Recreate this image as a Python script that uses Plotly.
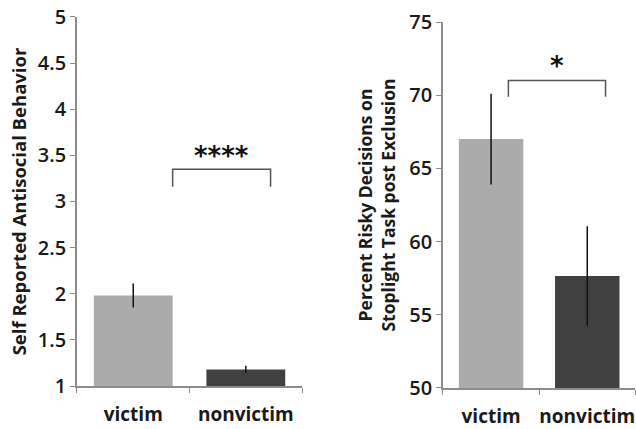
import plotly.graph_objects as go

categories = ["victim", "nonvictim"]
antisocial_mean = [1.98, 1.18]
antisocial_err = [0.13, 0.04]
risky_mean = [67.0, 57.65]
risky_err = [3.1, 3.4]
bar_colors = ["#ababab", "#404040"]

left_ticks = [1, 1.5, 2, 2.5, 3, 3.5, 4, 4.5, 5]
left_ticklabels = ["1", "1.5", "2", "2.5", "3", "3.5", "4", "4.5", "5"]
right_ticks = [50, 55, 60, 65, 70, 75]

left_sig = "****"
left_bracket = dict(x0=0.35, x1=1.22, top=3.35, bottom=3.16)
right_sig = "*"
right_bracket = dict(x0=0.18, x1=1.19, top=71.0, bottom=69.9)

FONT = "Open Sans, Lato, sans-serif"
AX = "#8c8c8c"

fig = go.Figure()
fig.add_trace(go.Bar(
    x=categories, y=[m - 1 for m in antisocial_mean], base=1,
    marker=dict(color=bar_colors, line=dict(width=0)),
    error_y=dict(type="data", array=antisocial_err, color="#111111", thickness=1.5, width=0),
    width=0.7, xaxis="x", yaxis="y", showlegend=False,
))
fig.add_trace(go.Bar(
    x=categories, y=[m - 50 for m in risky_mean], base=50,
    marker=dict(color=bar_colors, line=dict(width=0)),
    error_y=dict(type="data", array=risky_err, color="#111111", thickness=1.5, width=0),
    width=0.67, xaxis="x2", yaxis="y2", showlegend=False,
))

axis_common = dict(showline=True, linecolor=AX, linewidth=1.5, showgrid=False, zeroline=False,
                   ticks="outside", ticklen=5, tickcolor=AX, tickwidth=1, automargin=False)

fig.update_layout(
    width=636, height=429,
    margin=dict(l=0, r=0, t=0, b=0),
    paper_bgcolor="white", plot_bgcolor="white",
    font=dict(family=FONT, color="#1a1a1a"),
    xaxis=dict(domain=[0.121, 0.475], anchor="y", tickson="boundaries", tickangle=0, ticklabelstandoff=10,
               tickfont=dict(size=19, family=FONT, weight="bold"), **axis_common),
    yaxis=dict(domain=[0.1002, 0.9604], anchor="x", range=[1, 5], tickvals=left_ticks,
               ticktext=left_ticklabels, tickfont=dict(size=20, family=FONT, weight=600),
               title=dict(text="<b>Self Reported Antisocial Behavior</b>", font=dict(size=18.5), standoff=6),
               **axis_common),
    xaxis2=dict(domain=[0.6965, 0.999], anchor="y2", tickson="boundaries", tickangle=0, ticklabelstandoff=10,
                tickfont=dict(size=19, family=FONT, weight="bold"), **axis_common),
    yaxis2=dict(domain=[0.0956, 0.9487], anchor="x2", range=[50, 75], tickvals=right_ticks,
                tickfont=dict(size=20, family=FONT, weight=600),
                title=dict(text="<b>Percent Risky Decisions on<br>Stoplight Task post Exclusion</b>",
                           font=dict(size=17.5), standoff=9),
                **axis_common),
)

def bracket(xr, yr, b):
    fig.add_shape(type="path", xref=xr, yref=yr,
                  path=f"M {b['x0']},{b['bottom']} L {b['x0']},{b['top']} L {b['x1']},{b['top']} L {b['x1']},{b['bottom']}",
                  line=dict(color="#555555", width=1.5))

bracket("x", "y", left_bracket)
bracket("x2", "y2", right_bracket)

fig.add_annotation(x=(left_bracket["x0"] + left_bracket["x1"]) / 2, y=left_bracket["top"], xref="x", yref="y",
                   text=left_sig, showarrow=False, yanchor="bottom", yshift=-4,
                   font=dict(size=26, family="DejaVu Sans", color="#111111", weight="bold"))
fig.add_annotation(x=(right_bracket["x0"] + right_bracket["x1"]) / 2, y=right_bracket["top"], xref="x2", yref="y2",
                   text=right_sig, showarrow=False, yanchor="bottom", yshift=-2,
                   font=dict(size=26, family="DejaVu Sans", color="#111111", weight="bold"))

fig.write_html("out.html", config={"displayModeBar": False},
               post_script="document.body.style.margin='0';")
